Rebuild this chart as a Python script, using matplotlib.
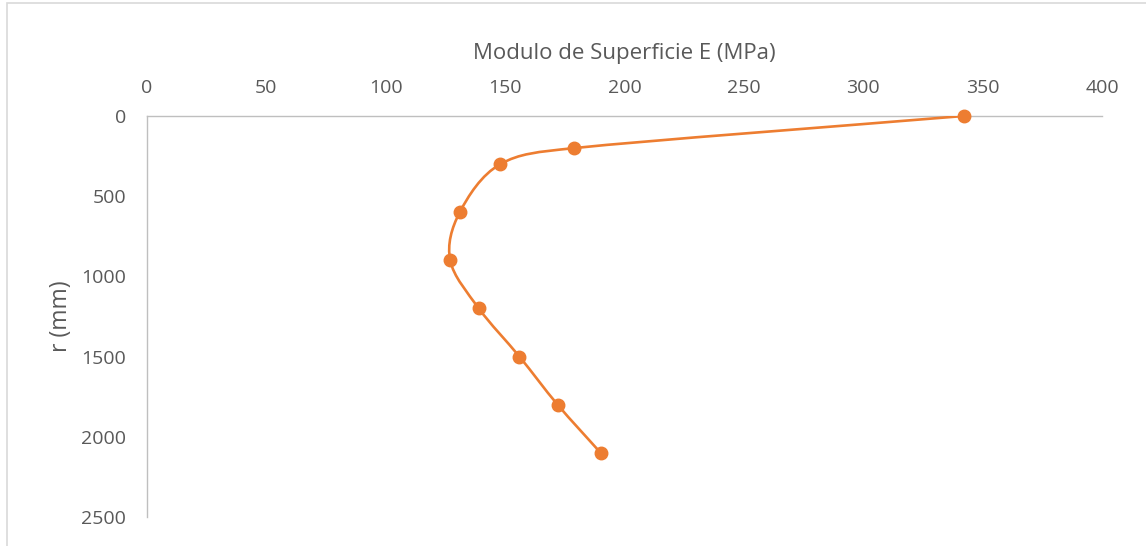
import numpy as np
import matplotlib
matplotlib.use("Agg")
import matplotlib.pyplot as plt
from matplotlib.path import Path
from matplotlib.patches import PathPatch, Rectangle

# Surface modulus (MPa) against radial distance r (mm)
modulus_mpa = [342, 179, 148, 131, 127, 139, 156, 172, 190]
radius_mm = [0, 200, 300, 600, 900, 1200, 1500, 1800, 2100]

x_ticks = [0, 50, 100, 150, 200, 250, 300, 350, 400]
y_ticks = [0, 500, 1000, 1500, 2000, 2500]

ORANGE = "#ED7D31"
GRAY_TXT = "#595959"
GRAY_LINE = "#BFBFBF"

plt.rcParams["font.family"] = ["Open Sans", "DejaVu Sans"]

fig = plt.figure(figsize=(11.46, 5.46), dpi=100)
ax = fig.add_axes([147 / 1146, 1 - 517 / 546, (1102 - 147) / 1146, (517 - 116) / 546])

# chart-area frame (top and left edges visible)
fig.patches.append(Rectangle((7 / 1146, -0.05), 1.2, 1 - 3 / 546 + 0.05,
                             transform=fig.transFigure, fill=False,
                             edgecolor="#D9D9D9", linewidth=1.2))

ax.set_xlim(0, 400)
ax.set_ylim(2500, 0)


def smooth_path(xs, ys):
    """Smoothed line through the points: Catmull-Rom tangents in display
    space, each Bezier handle limited to half of its segment length."""
    p = ax.transData.transform(np.column_stack([xs, ys]).astype(float))
    p = np.vstack([2 * p[0] - p[1], p, 2 * p[-1] - p[-2]])
    verts = [p[1]]
    codes = [Path.MOVETO]
    for i in range(1, len(p) - 2):
        p0, p1, p2, p3 = p[i - 1], p[i], p[i + 1], p[i + 2]
        seg = np.linalg.norm(p2 - p1)
        a = (p2 - p0) / 6.0
        b = (p3 - p1) / 6.0
        la, lb = np.linalg.norm(a), np.linalg.norm(b)
        if la > seg / 2:
            a *= (seg / 2) / la
        if lb > seg / 2:
            b *= (seg / 2) / lb
        verts += [p1 + a, p2 - b, p2]
        codes += [Path.CURVE4] * 3
    verts = ax.transData.inverted().transform(np.array(verts))
    return Path(verts, codes)


ax.add_patch(PathPatch(smooth_path(modulus_mpa, radius_mm), facecolor="none",
                       edgecolor=ORANGE, linewidth=1.9, zorder=3,
                       capstyle="round", joinstyle="round"))
ax.plot(modulus_mpa, radius_mm, linestyle="none", marker="o", markersize=9,
        color=ORANGE, zorder=4, clip_on=False)

ax.set_xticks(x_ticks)
ax.set_yticks(y_ticks)

ax.xaxis.tick_top()
ax.xaxis.set_label_position("top")
for s in ("right", "bottom"):
    ax.spines[s].set_visible(False)
for s in ("top", "left"):
    ax.spines[s].set_color(GRAY_LINE)
    ax.spines[s].set_linewidth(1.0)

ax.tick_params(axis="x", length=0, pad=14, labelsize=14, labelcolor=GRAY_TXT)
ax.tick_params(axis="y", length=0, pad=15, labelsize=14, labelcolor=GRAY_TXT)

ax.set_xlabel("Modulo de Superficie E (MPa)", fontsize=16, color=GRAY_TXT, labelpad=14)
ax.set_ylabel("r (mm)", fontsize=16.5, color=GRAY_TXT, labelpad=6)

fig.savefig("out.png", dpi=100, facecolor="white")
